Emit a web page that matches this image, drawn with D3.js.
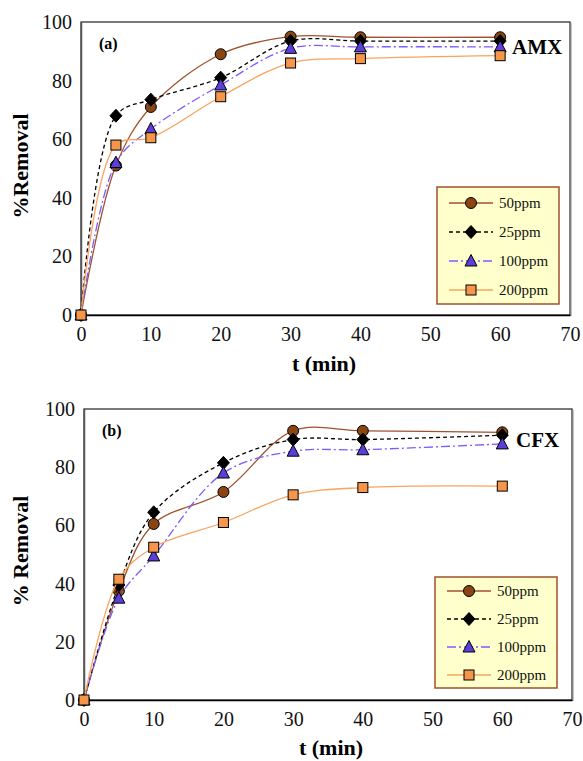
<!DOCTYPE html>
<html>
<head>
<meta charset="utf-8">
<script src="https://cdn.jsdelivr.net/npm/d3@7"></script>
<style>
  body { margin: 0; background: #fff; }
  svg, svg text { font-family: "Liberation Serif", "Times New Roman", serif; }
</style>
</head>
<body>
<div id="chart-area"></div>
<script>
// DATA
var times = [0, 5, 10, 20, 30, 40, 60];
var seriesNames = ["50ppm", "25ppm", "100ppm", "200ppm"];

var amx50 = [0, 51, 71, 89, 95, 94.8, 94.8];
var amx25 = [0, 68, 73.5, 81, 93.5, 93.5, 93.5];
var amx100 = [0, 52, 63.5, 78.5, 91, 91.5, 91.5];
var amx200 = [0, 58, 60.5, 74.5, 86, 87.5, 88.5];

var cfx50 = [0, 37.5, 60.5, 71.5, 92.5, 92.5, 92];
var cfx25 = [0, 39.5, 64.5, 81.5, 89.5, 89.5, 91];
var cfx100 = [0, 35, 49.5, 78, 85.5, 86, 88];
var cfx200 = [0, 41.5, 52.5, 61, 70.5, 73, 73.5];

var xTicks = [0, 10, 20, 30, 40, 50, 60, 70];
var yTicks = [0, 20, 40, 60, 80, 100];

// STYLES per series
var styles = [
    { line: "#A0522D", dash: null, fill: "#8B4513", shape: "circle" },
    { line: "#000000", dash: "4,3", fill: "#000000", shape: "diamond" },
    { line: "#7B5CFF", dash: "9,3,2,3", fill: "#5B3FD8", shape: "triangle" },
    { line: "#F9A35E", dash: null, fill: "#F5964A", shape: "square" }
];

var FONT = "'Liberation Serif', 'Times New Roman', serif";

var svg = d3.select("#chart-area")
    .append("svg")
    .attr("width", 583)
    .attr("height", 761)
    .attr("font-family", FONT);

function marker(sel, shape, fill) {
    if (shape === "circle") {
        sel.append("circle").attr("r", 5.5);
    } else if (shape === "diamond") {
        sel.append("path").attr("d", "M0,-6.5L6,0L0,6.5L-6,0Z");
    } else if (shape === "triangle") {
        sel.append("path").attr("d", "M0,-6.5L6,5L-6,5Z");
    } else {
        sel.append("rect").attr("x", -5).attr("y", -5).attr("width", 10).attr("height", 10);
    }
    sel.selectAll("*")
        .attr("fill", fill)
        .attr("stroke", "#000")
        .attr("stroke-width", 1);
}

function drawChart(opt) {
    var g = svg.append("g");

    var x = d3.scaleLinear().domain([0, 70]).range([opt.left, opt.right]);
    var y = d3.scaleLinear().domain([0, 100]).range([opt.bottom, opt.top]);

    // FRAME
    g.append("rect")
        .attr("x", opt.left).attr("y", opt.top)
        .attr("width", opt.right - opt.left)
        .attr("height", opt.bottom - opt.top)
        .attr("fill", "#fff")
        .attr("stroke", "#222")
        .attr("stroke-width", 1.2);
    g.append("line")
        .attr("x1", opt.right + 1).attr("x2", opt.right + 1)
        .attr("y1", opt.top + 1).attr("y2", opt.bottom + 1)
        .attr("stroke", "#888").attr("stroke-width", 1);

    // X AXIS
    var xAxis = g.append("g")
        .attr("transform", "translate(0," + opt.bottom + ")")
        .call(d3.axisBottom(x).tickValues(xTicks).tickSize(0).tickPadding(12))
        .attr("font-family", FONT)
        .attr("font-size", 20);
    xAxis.select(".domain").attr("stroke", "#000").attr("stroke-width", 1.5);
    xAxis.selectAll("text").attr("fill", "#111");

    // Y AXIS
    var yAxis = g.append("g")
        .attr("transform", "translate(" + opt.left + ",0)")
        .call(d3.axisLeft(y).tickValues(yTicks).tickSize(0).tickPadding(9))
        .attr("font-family", FONT)
        .attr("font-size", 20);
    yAxis.select(".domain").attr("stroke", "#555").attr("stroke-width", 1.5);
    yAxis.selectAll("text").attr("fill", "#111");

    // LINES + MARKERS
    var line = d3.line()
        .x(function (d) { return x(d.t) })
        .y(function (d) { return y(d.v) })
        .curve(d3.curveCatmullRom.alpha(0.5));

    opt.series.forEach(function (vals, i) {
        var data = times.map(function (t, j) { return { t: t, v: vals[j] } });
        var s = styles[i];
        g.append("path")
            .datum(data)
            .attr("d", line)
            .attr("fill", "none")
            .attr("stroke", s.line)
            .attr("stroke-width", 1.3)
            .attr("stroke-dasharray", s.dash);
        g.selectAll(".m" + i)
            .data(data)
            .enter()
            .append("g")
            .attr("class", "m" + i)
            .attr("transform", function (d) { return "translate(" + x(d.t) + "," + y(d.v) + ")" })
            .each(function () { marker(d3.select(this), s.shape, s.fill) });
    });

    // PANEL LABELS
    g.append("text")
        .attr("x", opt.left + 18).attr("y", opt.top + 27)
        .attr("font-size", "16px").attr("font-weight", "bold")
        .text(opt.panel);
    g.append("text")
        .attr("x", opt.drugX).attr("y", opt.drugY)
        .attr("font-size", "21px").attr("font-weight", "bold")
        .text(opt.drug);

    // AXIS TITLES
    g.append("text")
        .attr("x", opt.xTitleX).attr("y", opt.xTitleY)
        .attr("text-anchor", "middle")
        .attr("font-size", "22px").attr("font-weight", "bold")
        .text("t (min)");
    g.append("text")
        .attr("transform", "translate(28," + opt.yTitleY + ") rotate(-90)")
        .attr("text-anchor", "middle")
        .attr("font-size", "22px").attr("font-weight", "bold")
        .text(opt.yTitle);

    // LEGEND
    var lg = g.append("g");
    lg.append("rect")
        .attr("x", opt.lgX).attr("y", opt.lgY)
        .attr("width", 122).attr("height", opt.lgH)
        .attr("fill", "#FFFFCC")
        .attr("stroke", "#A0522D")
        .attr("stroke-width", 1.5);
    seriesNames.forEach(function (name, i) {
        var s = styles[i];
        var ry = opt.lgY + opt.lgRow0 + i * opt.lgStep;
        lg.append("line")
            .attr("x1", opt.lgX + 12).attr("x2", opt.lgX + 56)
            .attr("y1", ry).attr("y2", ry)
            .attr("stroke", s.line).attr("stroke-width", 1.3)
            .attr("stroke-dasharray", s.dash);
        var mg = lg.append("g").attr("transform", "translate(" + (opt.lgX + 34) + "," + ry + ")");
        marker(mg, s.shape, s.fill);
        lg.append("text")
            .attr("x", opt.lgX + 62).attr("y", ry + 5)
            .attr("font-size", "15px")
            .attr("fill", "#111")
            .text(name);
    });
}

drawChart({
    left: 81, right: 570, top: 22, bottom: 315,
    series: [amx50, amx25, amx100, amx200],
    panel: "(a)", drug: "AMX", drugX: 512, drugY: 54,
    xTitleX: 324, xTitleY: 371,
    yTitle: "%Removal", yTitleY: 166,
    lgX: 437, lgY: 187, lgH: 117, lgRow0: 16, lgStep: 29
});

drawChart({
    left: 84, right: 572, top: 409, bottom: 700,
    series: [cfx50, cfx25, cfx100, cfx200],
    panel: "(b)", drug: "CFX", drugX: 516, drugY: 447,
    xTitleX: 331, xTitleY: 755,
    yTitle: "% Removal", yTitleY: 551,
    lgX: 435, lgY: 577, lgH: 111, lgRow0: 14, lgStep: 28
});
</script>
</body>
</html>
